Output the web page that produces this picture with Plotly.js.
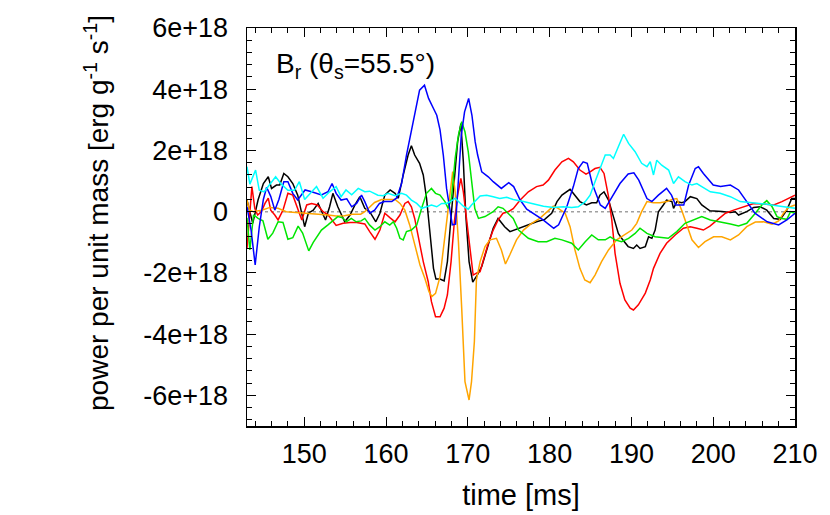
<!DOCTYPE html>
<html>
<head>
<meta charset="utf-8">
<script src="https://cdn.plot.ly/plotly-3.0.1.min.js"></script>
<style>
  html, body { margin: 0; padding: 0; background: #fff; }
  #chart { width: 830px; height: 515px; }
</style>
</head>
<body>
<div id="chart"></div>
<script>
// power per unit mass, in units of 1e18 erg/g/s
var tBlack = [143.0,143.7,144.35,145.0,145.6,146.0,146.6,147.0,147.5,148.0,
    148.6,149.2,150.05,150.5,151.1,151.7,152.6,153.1,153.5,154.1,
    154.95,155.6,156.2,156.8,157.4,158.0,158.75,159.25,159.85,160.5,
    161.1,161.5,162.1,162.7,163.1,163.5,164.1,164.55,164.95,165.4,
    165.8,166.1,166.6,167.1,167.5,167.9,168.35,168.75,169.15,169.45,
    169.75,170.15,170.6,171.15,171.7,172.3,173.1,173.7,174.5,175.15,
    176.2,177.2,178.4,179.4,180.25,180.9,181.5,182.5,183.1,183.7,
    184.5,185.15,185.75,186.15,186.65,187.2,187.8,188.4,188.8,189.6,
    190.25,190.65,191.05,191.7,192.1,192.5,192.9,193.3,193.9,194.3,
    194.95,195.15,195.55,196.15,196.55,197.2,198.0,198.6,199.6,201.05,
    202.1,202.7,203.1,204.1,204.95,205.75,206.55,207.4,208.2,209.0,
    209.6,210.0];
var vBlack = [0.38,-0.38,0.38,0.92,1.14,0.76,0.87,0.87,1.25,1.14,
    0.92,0.54,-0.49,-0.05,0.05,0.27,-0.27,0.16,0.6,0.16,
    -0.33,-0.11,0.22,0.49,0.11,0.0,-0.33,-0.05,0.54,0.71,
    0.6,0.44,1.2,1.85,2.15,1.85,1.58,1.2,0.44,-0.76,
    -1.85,-2.2,-2.2,-2.26,-1.63,-0.33,1.2,2.28,2.88,1.63,
    -0.11,-1.63,-2.3,-2.07,-1.79,-1.25,-0.54,-0.22,-0.49,-0.65,
    -0.54,-0.43,-0.33,-0.25,-0.05,0.33,0.54,0.73,0.54,0.33,
    0.22,0.29,0.29,0.54,0.65,0.38,-0.16,-0.71,-0.87,-1.14,
    -1.2,-1.09,-1.2,-1.14,-0.82,-0.87,-0.6,0.0,0.22,0.38,
    0.33,0.11,0.33,0.29,0.33,0.49,0.43,0.22,0.03,0.01,
    -0.03,0.0,-0.11,0.0,0.14,0.16,0.05,-0.22,-0.25,0.05,
    0.43,0.43];

var tRed = [143.0,143.3,143.6,143.95,144.3,144.75,145.2,145.6,145.9,146.4,
    146.8,147.4,148.0,148.6,149.15,149.7,150.3,150.9,151.6,152.3,
    152.9,153.9,154.75,155.6,156.4,157.4,158.0,158.65,159.25,159.85,
    160.5,161.1,161.7,162.3,162.7,163.1,163.5,163.95,164.55,165.15,
    165.55,166.05,166.6,167.1,167.5,167.95,168.35,168.75,169.15,169.45,
    169.85,170.25,170.65,171.1,171.5,171.9,172.5,173.1,173.7,174.3,
    174.95,175.55,176.4,177.4,178.4,179.2,179.85,180.65,181.5,182.3,
    182.9,183.7,184.45,184.95,185.55,186.15,186.65,187.2,187.6,188.0,
    188.6,189.2,189.85,190.25,190.85,191.7,192.3,192.7,193.5,194.3,
    195.35,196.35,197.2,198.0,198.8,199.6,200.45,201.5,202.5,203.7,
    204.95,206.15,207.4,208.4,209.2,210.0];
var vRed = [-1.2,-0.16,0.82,0.11,-0.11,0.0,0.27,0.44,0.05,-0.11,
    -0.27,0.05,0.6,0.54,0.16,-0.27,0.22,0.27,0.22,0.0,
    -0.1,-0.45,-0.38,-0.35,-0.35,-0.4,-0.65,-0.9,-0.6,-0.05,
    -0.2,-0.33,-0.11,0.27,0.33,0.16,-0.22,-0.87,-1.63,-2.28,
    -2.94,-3.43,-3.43,-3.15,-2.72,-1.63,-0.33,0.54,1.09,0.65,
    -0.33,-1.2,-2.07,-2.0,-1.96,-1.58,-1.03,-0.6,-0.27,-0.05,
    0.0,0.1,0.38,0.65,0.82,0.87,1.03,1.36,1.63,1.74,
    1.63,1.36,1.23,1.3,1.41,1.45,1.25,0.49,-0.27,-1.36,
    -2.34,-2.88,-3.15,-3.21,-3.04,-2.66,-2.23,-1.85,-1.36,-1.03,
    -0.76,-0.54,-0.49,-0.54,-0.6,-0.47,-0.27,-0.05,0.05,0.16,
    0.27,0.25,0.22,0.33,0.43,0.54];

var tBlue = [143.0,143.5,144.0,144.5,145.0,145.4,145.9,146.4,146.9,147.5,
    148.0,148.6,149.2,150.1,150.9,151.5,152.1,152.9,153.4,153.9,
    154.5,155.2,155.8,156.4,157.0,157.4,158.0,158.6,159.2,159.8,
    160.7,161.3,161.9,162.5,163.1,163.7,164.1,164.7,165.2,165.8,
    166.2,166.6,167.0,167.4,167.8,168.1,168.5,168.8,169.2,169.6,
    170.1,170.5,170.9,171.2,171.7,172.5,173.1,174.1,175.0,175.6,
    176.4,177.2,178.0,179.2,180.5,181.1,182.1,182.9,183.5,184.1,
    184.6,185.2,186.2,186.8,187.4,188.6,189.6,190.3,190.9,191.9,
    192.5,193.3,194.3,194.9,195.4,196.4,197.0,197.8,198.2,198.8,
    200.0,200.9,202.1,203.1,204.1,205.1,206.6,208.0,209.0,210.0];
var vBlue = [0.16,-0.6,-1.74,-0.5,0.4,0.8,0.5,0.05,0.4,0.98,
    0.98,0.6,0.38,0.71,0.65,0.6,0.55,0.65,0.92,0.6,
    0.38,0.42,0.16,0.27,0.54,0.33,-0.05,0.05,0.27,0.33,
    0.33,0.45,0.92,1.85,2.67,3.43,3.97,4.13,3.7,3.37,
    3.15,2.67,1.85,0.76,0.11,-0.43,-0.41,0.87,2.5,3.26,
    3.7,3.15,2.28,1.85,1.3,1.14,0.98,0.76,0.95,0.82,
    0.38,0.08,-0.05,-0.27,-0.54,-0.43,0.16,0.82,1.41,1.63,
    1.58,0.92,0.22,0.11,0.38,0.92,1.23,1.27,1.03,0.43,
    0.33,0.54,0.76,0.54,0.22,0.22,0.87,1.41,1.47,1.25,
    0.87,0.82,0.87,0.71,0.33,-0.05,-0.33,-0.43,-0.27,-0.05];

var tGreen = [143.0,143.35,143.8,144.35,144.95,145.55,146.15,146.8,147.4,148.0,
    148.6,149.25,149.8,150.55,151.1,152.1,152.9,153.55,154.1,154.7,
    155.15,155.75,156.35,156.95,157.4,158.0,158.65,159.25,159.85,160.45,
    160.9,161.3,161.7,162.1,162.5,163.1,163.75,164.35,164.95,165.55,
    166.05,166.6,167.2,167.6,168.0,168.45,168.85,169.25,169.65,170.05,
    170.45,170.85,171.3,172.1,173.1,173.7,174.3,174.95,175.55,176.2,
    177.4,178.6,179.65,180.65,181.5,182.7,183.5,184.35,185.15,185.95,
    186.8,187.4,188.0,188.8,189.65,190.45,191.05,191.9,192.9,194.5,
    195.55,196.55,197.6,198.6,199.65,201.05,202.1,203.1,204.1,205.15,
    205.95,206.55,207.2,207.8,208.4,209.0,209.45,210.0];
var vGreen = [-0.2,-1.25,-0.1,-0.22,-0.3,-0.9,-0.7,-0.33,-0.35,-0.9,
    -0.85,-0.47,-0.7,-1.28,-1.0,-0.6,-0.43,-0.27,-0.16,-0.2,
    -0.33,-0.22,-0.33,-0.3,-0.22,-0.44,-0.6,-0.49,-0.33,-0.44,
    -0.33,-0.54,-0.87,-0.92,-0.65,-0.6,-0.44,0.11,0.6,0.76,
    0.6,0.54,0.33,0.11,0.44,1.74,2.5,2.94,2.61,1.96,
    0.98,0.1,-0.22,-0.16,0.0,0.16,0.11,-0.05,-0.22,-0.6,
    -0.87,-0.98,-0.98,-0.87,-0.92,-1.03,-1.25,-0.98,-0.76,-0.92,
    -0.92,-0.82,-0.92,-0.98,-0.87,-0.71,-0.54,-0.71,-0.82,-0.87,
    -0.65,-0.38,-0.27,-0.16,-0.27,-0.33,-0.4,-0.47,-0.38,-0.05,
    0.22,0.36,0.16,-0.16,-0.22,-0.25,0.0,-0.05];

var tOrange = [143.0,143.3,143.8,144.8,145.8,146.8,147.8,148.8,149.8,150.9,
    151.9,152.9,153.9,154.9,155.9,156.9,157.4,158.0,158.6,159.45,
    160.3,161.1,161.7,162.3,162.9,163.5,164.15,164.75,165.25,165.6,
    166.05,166.6,167.2,167.8,168.15,168.45,168.85,169.25,169.65,170.15,
    170.45,170.8,171.05,171.5,172.1,172.7,173.5,174.1,174.6,175.15,
    175.95,176.8,177.8,178.8,179.65,180.45,181.05,181.9,182.5,183.1,
    183.7,184.3,184.95,185.55,186.35,187.2,188.2,189.2,190.05,190.65,
    191.25,191.9,192.7,193.5,194.35,194.95,195.55,196.15,196.8,197.4,
    198.2,199.0,200.05,201.05,202.1,203.1,204.1,205.15,206.15,207.2,
    208.0,208.6,209.2,210.0];
var vOrange = [0.38,0.05,0.0,0.05,0.14,0.11,0.0,-0.02,-0.03,-0.05,
    -0.08,-0.11,-0.14,-0.13,-0.08,-0.08,0.0,0.16,0.3,0.4,
    0.41,0.4,0.27,0.05,-0.44,-1.09,-1.74,-2.18,-2.61,-2.77,
    -2.67,-2.12,-0.76,0.54,1.31,0.65,-0.98,-3.15,-5.55,-6.15,
    -5.55,-4.24,-2.23,-1.63,-1.14,-0.92,-0.87,-1.25,-1.71,-1.4,
    -0.92,-0.6,-0.38,-0.22,0.0,0.18,0.11,-0.05,-0.49,-1.25,
    -1.85,-2.23,-2.32,-2.07,-1.63,-1.25,-0.92,-0.76,-0.6,-0.38,
    0.0,0.33,0.29,0.29,0.33,0.4,0.43,0.05,-0.43,-0.92,
    -1.17,-0.98,-0.82,-0.82,-0.92,-0.76,-0.49,-0.34,-0.33,-0.41,
    -0.3,-0.05,0.14,0.22];

var tCyan = [143.0,143.35,144.05,144.5,145.1,145.7,146.5,147.2,148.0,148.8,
    149.4,150.05,150.9,151.5,152.3,153.1,153.9,154.5,155.1,155.8,
    156.6,157.4,158.0,159.0,159.65,160.25,161.1,161.9,162.5,163.1,
    163.75,164.35,164.95,165.55,166.2,166.8,167.4,168.0,168.45,168.85,
    169.45,170.05,170.45,171.5,172.3,173.1,173.9,174.75,175.55,176.8,
    178.0,179.25,180.45,181.7,182.7,183.5,184.35,184.95,185.55,186.2,
    186.8,187.4,187.8,188.4,189.05,189.65,190.45,191.25,191.9,192.3,
    192.7,193.1,193.7,194.55,195.15,195.75,196.55,197.4,198.0,198.6,
    199.65,200.85,202.1,203.3,204.95,206.55,208.2,210.0];
var vCyan = [1.47,0.9,1.36,0.7,0.65,0.85,1.14,0.9,0.7,0.7,
    0.98,0.4,0.65,0.82,0.44,0.65,0.82,0.49,0.71,0.55,
    0.76,0.65,0.67,0.54,0.52,0.6,0.52,0.6,0.54,0.38,
    0.27,0.11,0.16,0.22,0.16,0.27,0.27,0.35,0.44,0.33,
    0.18,0.08,0.22,0.51,0.54,0.49,0.43,0.47,0.4,0.33,
    0.25,0.18,0.14,0.16,0.14,0.16,0.33,0.54,0.98,1.47,
    1.85,1.85,1.74,2.12,2.53,2.23,1.96,1.58,1.47,1.63,
    1.2,1.68,1.52,1.36,0.92,1.14,0.98,0.87,0.92,0.82,
    0.65,0.6,0.49,0.33,0.29,0.24,0.18,0.11];

var yTickVals = [-6, -4, -2, 0, 2, 4, 6];
var yTickText = ['-6e+18', '-4e+18', '-2e+18', '0', '2e+18', '4e+18', '6e+18'];

var FONT = 'Liberation Sans, Arial, Helvetica, sans-serif';

function line(x, y, color) {
    return {x: x, y: y, type: 'scatter', mode: 'lines', hoverinfo: 'skip',
            line: {color: color, width: 1.5}};
}

var data = [
    line(tBlack, vBlack, '#000000'),
    line(tRed, vRed, '#ff0000'),
    line(tOrange, vOrange, '#ffa500'),
    line(tGreen, vGreen, '#00e600'),
    line(tBlue, vBlue, '#0000ff'),
    line(tCyan, vCyan, '#00ffff')
];

var axisCommon = {
    showline: true, linecolor: '#000', linewidth: 1.5, mirror: 'allticks',
    ticks: 'inside', ticklen: 9, tickwidth: 1, tickcolor: '#000',
    showgrid: false, zeroline: false,
    tickfont: {family: FONT, size: 27, color: '#000'}
};

var layout = {
    width: 830, height: 515,
    margin: {l: 247, r: 35, t: 28, b: 89},
    paper_bgcolor: '#fff', plot_bgcolor: '#fff',
    showlegend: false,
    font: {family: FONT, color: '#000'},
    xaxis: Object.assign({}, axisCommon, {
        range: [143, 210], dtick: 10, tick0: 150,
        minor: {dtick: 2, ticks: 'inside', ticklen: 5, tickcolor: '#000'},
        ticklabelstandoff: 3,
        title: {text: 'time [ms]', font: {family: FONT, size: 29}, standoff: 17}
    }),
    yaxis: Object.assign({}, axisCommon, {
        range: [-7, 6], tickvals: yTickVals, ticktext: yTickText,
        minor: {dtick: 0.4, ticks: 'inside', ticklen: 5, tickcolor: '#000'},
        ticklabelstandoff: 12
    }),
    shapes: [{
        type: 'line', xref: 'paper', x0: 0, x1: 1, yref: 'y', y0: 0, y1: 0,
        line: {color: '#a0a0a0', width: 1.5, dash: 'dot'}, layer: 'below'
    }],
    annotations: [{
        xref: 'paper', yref: 'paper', x: 0.05, y: 0.905,
        xanchor: 'left', yanchor: 'middle', showarrow: false,
        text: 'B<sub>r</sub> (θ<sub>s</sub>=55.5°)',
        font: {family: FONT, size: 28, color: '#000'}
    }, {
        // y axis title, placed by hand to sit where the reference has it
        xref: 'paper', yref: 'paper', x: -0.275, y: 0.536,
        xanchor: 'center', yanchor: 'middle', showarrow: false, textangle: -90,
        text: 'power per unit mass [erg g<sup>-1</sup> s<sup>-1</sup>]',
        font: {family: FONT, size: 28, color: '#000'}
    }]
};

Plotly.newPlot('chart', data, layout, {staticPlot: true, displayModeBar: false});
</script>
</body>
</html>
